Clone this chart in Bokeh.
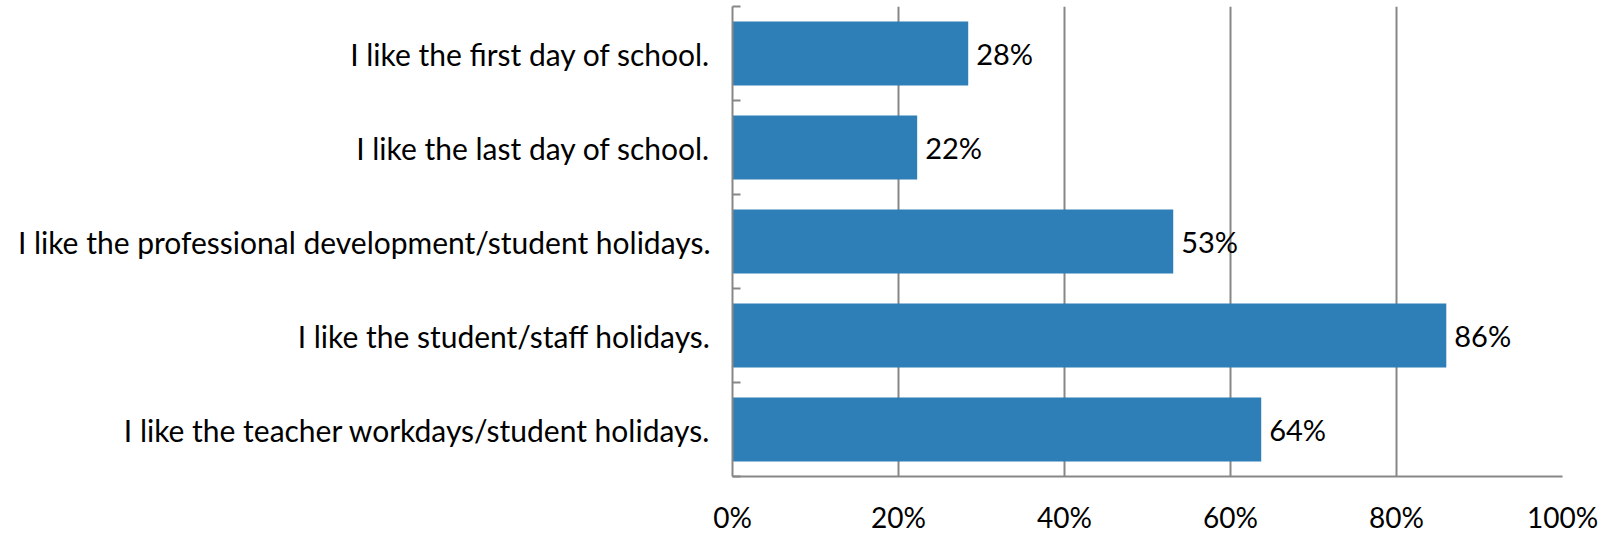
from bokeh.plotting import figure
from bokeh.models import Range1d, FixedTicker, ColumnDataSource, NumeralTickFormatter
from bokeh.core.properties import value
from bokeh.embed import file_html
from bokeh.resources import INLINE

categories = [
    "I like the first day of school.",
    "I like the last day of school.",
    "I like the professional development/student holidays.",
    "I like the student/staff holidays.",
    "I like the teacher workdays/student holidays.",
]
values = [0.284, 0.2225, 0.531, 0.86, 0.637]
x_ticks = [0, 0.2, 0.4, 0.6, 0.8, 1.0]

n = len(categories)
ypos = [n - i - 0.5 for i in range(n)]
labels = ["{:.0f}%".format(v * 100) for v in values]

src = ColumnDataSource(dict(y=ypos, v=values, lab=labels))

FONT = "Lato"
GREY = "#878787"

p = figure(width=1600, height=536, output_backend="svg", toolbar_location=None,
           x_range=Range1d(0, 1), y_range=Range1d(0, n),
           min_border_left=732, min_border_right=38, min_border_top=6, min_border_bottom=58)
p.outline_line_color = None
p.background_fill_color = "white"
p.border_fill_color = "white"

p.hbar(y="y", right="v", left=0, height=0.68, source=src, color="#2E7EB8", line_color=None)
p.text(x="v", y="y", text="lab", source=src, x_offset=8, text_baseline="middle",
       text_align="left", text_font=value(FONT), text_font_size="29px", text_color="black")

# x axis
p.xaxis.ticker = FixedTicker(ticks=x_ticks)
p.xaxis.formatter = NumeralTickFormatter(format="0%")
p.xaxis.axis_line_color = GREY
p.xaxis.axis_line_width = 2
p.xaxis.major_tick_in = 0
p.xaxis.major_tick_out = 0
p.xaxis.minor_tick_line_color = None
p.xaxis.major_label_standoff = 23
p.xaxis.major_label_text_font = FONT
p.xaxis.major_label_text_font_size = "28px"
p.xaxis.major_label_text_color = "black"

# y axis
p.yaxis.ticker = FixedTicker(ticks=ypos, minor_ticks=list(range(n + 1)))
p.yaxis.major_label_overrides = {y: c for y, c in zip(ypos, categories)}
p.yaxis.axis_line_color = GREY
p.yaxis.axis_line_width = 2
p.yaxis.major_tick_line_color = None
p.yaxis.minor_tick_line_color = GREY
p.yaxis.minor_tick_line_width = 2
p.yaxis.minor_tick_in = 8
p.yaxis.minor_tick_out = 0
p.yaxis.major_label_standoff = 16
p.yaxis.major_label_text_font = FONT
p.yaxis.major_label_text_font_size = "30px"
p.yaxis.major_label_text_color = "black"

p.xgrid.grid_line_color = GREY
p.xgrid.grid_line_width = 2
p.ygrid.grid_line_color = None

open("out.html", "w").write(file_html(p, INLINE))
